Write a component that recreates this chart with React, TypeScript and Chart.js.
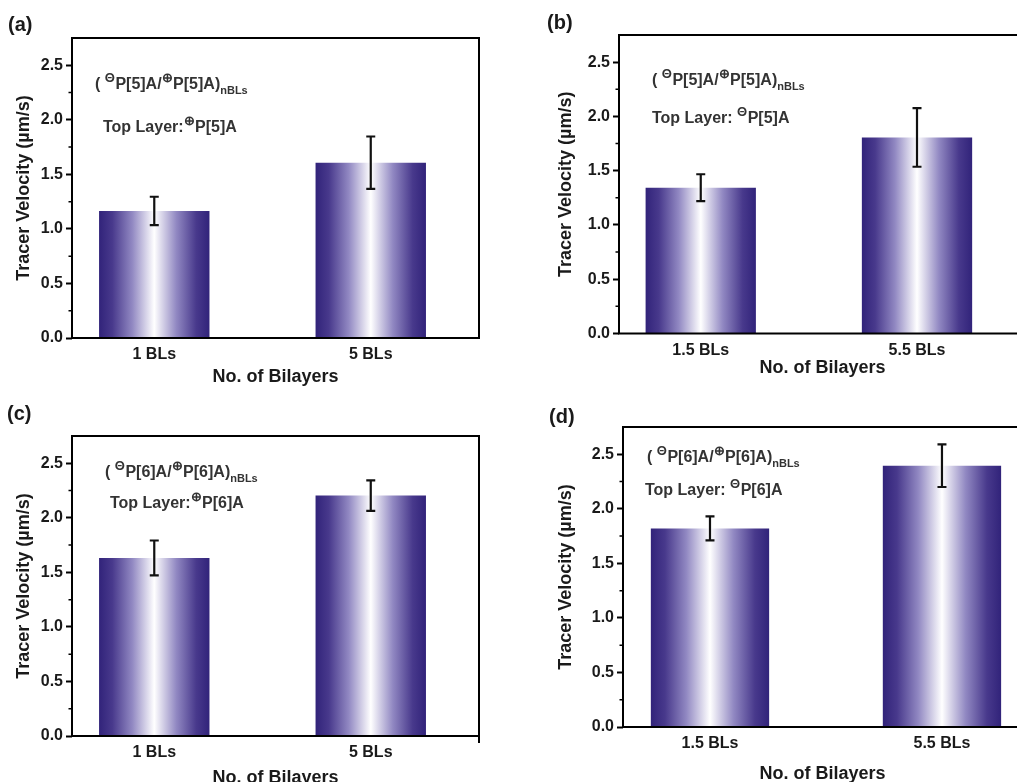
import React, { useEffect, useRef } from 'react';
import { Chart, registerables } from 'chart.js';

Chart.register(...registerables);

// ---------- data ----------
const categoriesA = ['1 BLs', '5 BLs'];
const categoriesB = ['1.5 BLs', '5.5 BLs'];
const categoriesC = ['1 BLs', '5 BLs'];
const categoriesD = ['1.5 BLs', '5.5 BLs'];
const categoryPositions = [1, 2];

const valuesA = [1.165, 1.607];
const errorsA = [0.13, 0.24];
const valuesB = [1.343, 1.806];
const errorsB = [0.124, 0.27];
const valuesC = [1.632, 2.204];
const errorsC = [0.16, 0.14];
const valuesD = [1.82, 2.395];
const errorsD = [0.11, 0.195];

const yMajorTicks = [0, 0.5, 1, 1.5, 2, 2.5];
const yMinorTicks = [0.25, 0.75, 1.25, 1.75, 2.25];

const yTitle = 'Tracer Velocity (µm/s)';
const xTitle = 'No. of Bilayers';

type Part = { t: string; k?: 'sup' | 'sub' };
const formulaLine = (n: string): Part[] => [
  { t: '( ' },
  { t: 'Θ', k: 'sup' },
  { t: `P[${n}]A/` },
  { t: '⊕', k: 'sup' },
  { t: `P[${n}]A)` },
  { t: 'nBLs', k: 'sub' },
];
const annotationA1 = formulaLine('5');
const annotationA2: Part[] = [{ t: 'Top Layer:' }, { t: '⊕', k: 'sup' }, { t: 'P[5]A' }];
const annotationB1 = formulaLine('5');
const annotationB2: Part[] = [{ t: 'Top Layer: ' }, { t: 'Θ', k: 'sup' }, { t: 'P[5]A' }];
const annotationC1 = formulaLine('6');
const annotationC2: Part[] = [{ t: 'Top Layer:' }, { t: '⊕', k: 'sup' }, { t: 'P[6]A' }];
const annotationD1 = formulaLine('6');
const annotationD2: Part[] = [{ t: 'Top Layer: ' }, { t: 'Θ', k: 'sup' }, { t: 'P[6]A' }];

// ---------- layout / style ----------
const FONT = '"Liberation Sans", Arial, Helvetica, sans-serif';
const BAR_WIDTH_UNITS = 0.51;

const panels = [
  {
    key: 'a', left: 0, top: 0, width: 500, height: 400,
    area: { l: 72, t: 38, r: 479, b: 338 }, xMin: 0.62, xMax: 2.5,
    categories: categoriesA, values: valuesA, errors: errorsA,
    ann1: annotationA1, ann2: annotationA2, a1: [23, 51], a2: [31, 94],
    label: '(a)', labelPos: [8, 25], yTitlePad: 13, xTitlePad: 12, extendRight: 0,
  },
  {
    key: 'b', left: 500, top: 0, width: 560, height: 400,
    area: { l: 119, t: 35, r: 526, b: 333.5 }, xMin: 0.622, xMax: 2.504,
    categories: categoriesB, values: valuesB, errors: errorsB,
    ann1: annotationB1, ann2: annotationB2, a1: [33, 50], a2: [33, 88],
    label: '(b)', labelPos: [47, 23], yTitlePad: 55, xTitlePad: 21, extendRight: 0,
  },
  {
    key: 'c', left: 0, top: 380, width: 500, height: 420,
    area: { l: 72, t: 56, r: 479, b: 356 }, xMin: 0.62, xMax: 2.5,
    categories: categoriesC, values: valuesC, errors: errorsC,
    ann1: annotationC1, ann2: annotationC2, a1: [33, 41], a2: [38, 72],
    label: '(c)', labelPos: [7, 34], yTitlePad: 13, xTitlePad: 11, extendRight: 7,
  },
  {
    key: 'd', left: 500, top: 380, width: 580, height: 420,
    area: { l: 123, t: 47, r: 522, b: 347 }, xMin: 0.625, xMax: 2.345,
    categories: categoriesD, values: valuesD, errors: errorsD,
    ann1: annotationD1, ann2: annotationD2, a1: [24, 35], a2: [22, 68],
    label: '(d)', labelPos: [49, 37], yTitlePad: 55, xTitlePad: 15, extendRight: 0,
  },
];

type PanelCfg = typeof panels[number];

function drawRich(ctx: CanvasRenderingContext2D, parts: Part[], x: number, y: number) {
  let cx = x;
  ctx.textBaseline = 'alphabetic';
  ctx.textAlign = 'left';
  ctx.fillStyle = '#333333';
  for (const p of parts) {
    let dy = 0;
    if (p.k === 'sup') {
      ctx.font = `bold 13px ${FONT}`;
      dy = -7;
    } else if (p.k === 'sub') {
      ctx.font = `bold 11px ${FONT}`;
      dy = 5;
    } else {
      ctx.font = `bold 16px ${FONT}`;
    }
    ctx.fillText(p.t, cx, y + dy);
    cx += ctx.measureText(p.t).width + (p.k === 'sup' ? 0.5 : 0);
  }
}

function Panel({ cfg }: { cfg: PanelCfg }) {
  const ref = useRef<HTMLCanvasElement | null>(null);
  useEffect(() => {
    if (!ref.current) return;
    const { area } = cfg;
    const halfW = BAR_WIDTH_UNITS / 2;

    const decorations = {
      id: 'decorations' + cfg.key,
      afterDatasetsDraw(chart: any) {
        const ctx = chart.ctx as CanvasRenderingContext2D;
        const ys = chart.scales.y;
        const ca = chart.chartArea;
        // error bars
        const meta = chart.getDatasetMeta(0);
        ctx.save();
        ctx.strokeStyle = '#111';
        ctx.lineWidth = 2.2;
        meta.data.forEach((el: any, i: number) => {
          const v = cfg.values[i];
          const e = cfg.errors[i];
          const yTop = ys.getPixelForValue(v + e);
          const yBot = ys.getPixelForValue(v - e);
          ctx.beginPath();
          ctx.moveTo(el.x, yTop);
          ctx.lineTo(el.x, yBot);
          ctx.moveTo(el.x - 4.5, yTop);
          ctx.lineTo(el.x + 4.5, yTop);
          ctx.moveTo(el.x - 4.5, yBot);
          ctx.lineTo(el.x + 4.5, yBot);
          ctx.stroke();
        });
        // frame
        ctx.strokeStyle = '#000';
        ctx.lineWidth = 2;
        ctx.strokeRect(ca.left, ca.top, ca.right - ca.left, ca.bottom - ca.top);
        if (cfg.extendRight) {
          ctx.beginPath();
          ctx.moveTo(ca.right, ca.bottom);
          ctx.lineTo(ca.right, ca.bottom + cfg.extendRight);
          ctx.stroke();
        }
        // minor ticks
        ctx.lineWidth = 1.5;
        ctx.beginPath();
        yMinorTicks.forEach((t) => {
          const py = ys.getPixelForValue(t);
          ctx.moveTo(ca.left - 3.5, py);
          ctx.lineTo(ca.left, py);
        });
        ctx.stroke();
        // annotations
        drawRich(ctx, cfg.ann1, ca.left + cfg.a1[0], ca.top + cfg.a1[1]);
        drawRich(ctx, cfg.ann2, ca.left + cfg.a2[0], ca.top + cfg.a2[1]);
        // panel label
        ctx.font = `bold 20px ${FONT}`;
        ctx.fillStyle = '#1a1a1a';
        ctx.textBaseline = 'middle';
        ctx.textAlign = 'left';
        ctx.fillText(cfg.label, cfg.labelPos[0], cfg.labelPos[1]);
        ctx.restore();
      },
    };

    const chart = new Chart(ref.current, {
      type: 'bar',
      data: {
        datasets: [
          {
            data: categoryPositions.map((x, i) => ({ x, y: cfg.values[i] })),
            categoryPercentage: 1,
            barPercentage: BAR_WIDTH_UNITS,
            borderWidth: 0,
            backgroundColor: (c: any) => {
              const chartRef = c.chart;
              const xs = chartRef.scales?.x;
              if (!xs || c.type !== 'data') return '#35287e';
              const xv = categoryPositions[c.dataIndex];
              const x0 = xs.getPixelForValue(xv - halfW);
              const x1 = xs.getPixelForValue(xv + halfW);
              if (!isFinite(x0) || !isFinite(x1) || x1 <= x0) return '#35287e';
              const g = chartRef.ctx.createLinearGradient(x0, 0, x1, 0);
              g.addColorStop(0, '#31237a');
              g.addColorStop(0.12, '#48398c');
              g.addColorStop(0.3, '#9188c2');
              g.addColorStop(0.5, '#ffffff');
              g.addColorStop(0.7, '#9188c2');
              g.addColorStop(0.88, '#48398c');
              g.addColorStop(1, '#31237a');
              return g;
            },
          } as any,
        ],
      },
      options: {
        animation: false,
        responsive: false,
        maintainAspectRatio: false,
        layout: {
          padding: { left: 0, top: area.t, right: cfg.width - area.r, bottom: 0 },
        },
        plugins: {
          legend: { display: false },
          tooltip: { enabled: false },
          title: { display: false },
        },
        scales: {
          x: {
            type: 'linear',
            min: cfg.xMin,
            max: cfg.xMax,
            offset: false,
            grid: { display: false, drawTicks: false },
            border: { display: false },
            afterBuildTicks: (s: any) => {
              s.ticks = categoryPositions.map((v) => ({ value: v }));
            },
            afterFit: (s: any) => {
              s.height = cfg.height - area.b;
            },
            ticks: {
              autoSkip: false,
              maxRotation: 0,
              padding: 7,
              color: '#1a1a1a',
              font: { family: FONT, size: 16, weight: 'bold' },
              callback: (_v: any, i: number) => cfg.categories[i],
            },
            title: {
              display: true,
              text: xTitle,
              color: '#1a1a1a',
              font: { family: FONT, size: 18, weight: 'bold' },
              padding: { top: 0, bottom: cfg.xTitlePad },
            },
          },
          y: {
            type: 'linear',
            min: 0,
            max: 2.75,
            afterBuildTicks: (s: any) => {
              s.ticks = yMajorTicks.map((v) => ({ value: v }));
            },
            afterFit: (s: any) => {
              s.width = area.l;
            },
            grid: {
              display: true,
              drawOnChartArea: false,
              drawTicks: true,
              tickLength: 6,
              tickWidth: 2,
              tickColor: '#000',
            },
            border: { display: false },
            ticks: {
              padding: 3,
              color: '#1a1a1a',
              font: { family: FONT, size: 16, weight: 'bold' },
              callback: (v: any) => Number(v).toFixed(1),
            },
            title: {
              display: true,
              text: yTitle,
              color: '#1a1a1a',
              font: { family: FONT, size: 18, weight: 'bold' },
              padding: { top: cfg.yTitlePad, bottom: 0 },
            },
          },
        },
      } as any,
      plugins: [decorations],
    });
    return () => chart.destroy();
  }, [cfg]);

  return (
    <div
      style={{
        position: 'absolute',
        left: cfg.left,
        top: cfg.top,
        width: cfg.width,
        height: cfg.height,
      }}
    >
      <canvas
        ref={ref}
        width={cfg.width}
        height={cfg.height}
        style={{ width: cfg.width, height: cfg.height, display: 'block' }}
      />
    </div>
  );
}

export default function App() {
  return (
    <div
      style={{
        position: 'fixed',
        left: 0,
        top: 0,
        width: 1017,
        height: 782,
        overflow: 'hidden',
        background: '#ffffff',
      }}
    >
      {panels.map((p) => (
        <Panel key={p.key} cfg={p} />
      ))}
    </div>
  );
}
